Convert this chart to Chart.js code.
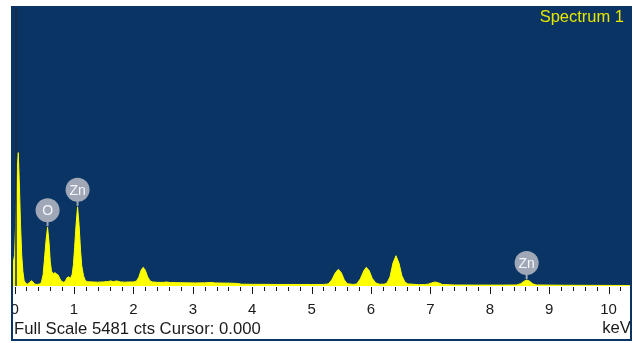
<!DOCTYPE html>
<html>
<head>
<meta charset="utf-8">
<script src="https://cdn.jsdelivr.net/npm/chart.js@4"></script>
<style>
  html, body { margin: 0; padding: 0; background: #ffffff; }
  #wrap { width: 636px; height: 343px; }
</style>
</head>
<body>
<div id="wrap"><canvas id="spectrumChart" width="636" height="343"></canvas></div>
<script>
// EDS spectrum: energy (keV) and counts per channel
const energyKeV = [
    -0.03, 0.00, 0.025, 0.045, 0.062, 0.08, 0.10, 0.12, 0.14, 0.16, 0.19, 0.22, 0.25, 0.28, 0.31, 0.34,
    0.38, 0.42, 0.45, 0.48, 0.50, 0.53, 0.555, 0.58, 0.60, 0.62, 0.64, 0.66, 0.68, 0.70, 0.73, 0.76,
    0.79, 0.82, 0.85, 0.88, 0.91, 0.94, 0.97, 0.99, 1.01, 1.035, 1.06, 1.085, 1.11, 1.13, 1.16, 1.19,
    1.22, 1.30, 1.40, 1.50, 1.58, 1.62, 1.66, 1.72, 1.78, 1.85, 1.92, 2.00, 2.05, 2.09, 2.13, 2.165,
    2.20, 2.24, 2.28, 2.32, 2.40, 2.50, 2.55, 2.62, 2.75, 2.90, 3.05, 3.20, 3.30, 3.38, 3.50, 3.65,
    3.75, 3.82, 4.00, 4.20, 4.40, 4.60, 4.80, 5.00, 5.20, 5.28, 5.34, 5.40, 5.45, 5.50, 5.55, 5.60,
    5.70, 5.76, 5.82, 5.88, 5.92, 5.97, 6.02, 6.08, 6.14, 6.22, 6.27, 6.32, 6.37, 6.42, 6.47, 6.52,
    6.57, 6.62, 6.70, 6.80, 6.90, 6.96, 7.02, 7.08, 7.14, 7.20, 7.40, 7.80, 8.20, 8.45, 8.52, 8.58,
    8.62, 8.67, 8.72, 8.78, 9.20, 9.80, 10.36
];
const countsCts = [
    420, 600, 1500, 2300, 2610, 2000, 1200, 600, 280, 110, 45, 40, 70, 104, 80, 35,
    30, 40, 70, 220, 480, 900, 1150, 850, 480, 300, 250, 245, 262, 240, 220, 150,
    90, 75, 85, 160, 180, 150, 230, 420, 750, 1200, 1550, 1200, 700, 400, 200, 110,
    85, 80, 75, 80, 90, 100, 85, 100, 80, 75, 78, 80, 95, 170, 310, 366,
    310, 180, 100, 80, 72, 70, 78, 68, 65, 62, 60, 62, 70, 60, 58, 55,
    50, 35, 33, 32, 30, 30, 30, 30, 30, 40, 120, 260, 327, 260, 120, 45,
    30, 40, 140, 300, 366, 300, 150, 60, 35, 35, 60, 180, 450, 593, 450, 200,
    80, 40, 35, 25, 28, 35, 60, 78, 60, 30, 20, 18, 18, 20, 45, 95,
    117, 95, 45, 20, 15, 12, 10
];

// peak markers
const elementNames = ['O', 'Zn', 'Zn'];
const elementKeV = [0.555, 1.06, 8.62];

// axis
const fullScaleCts = 5481;
const xMinKeV = -0.027;
const xMaxKeV = 10.36;
const majorTicks = [0, 1, 2, 3, 4, 5, 6, 7, 8, 9, 10];
const majorTickLabels = ['0', '1', '2', '3', '4', '5', '6', '7', '8', '9', '10'];
const minorTickStep = 0.2;
const cursorKeV = 0.0;
const spectrumTitle = 'Spectrum 1';
const footerText = 'Full Scale ' + fullScaleCts + ' cts Cursor: ' + cursorKeV.toFixed(3);
const unitText = 'keV';

const NAVY = '#093463';
const YELLOW = '#ffff00';
const FONT = '"Liberation Sans", Arial, sans-serif';

function peakCounts(keV) {
    let best = 0;
    energyKeV.forEach((e, i) => {
        if (Math.abs(e - keV) <= 0.03 && countsCts[i] > best) best = countsCts[i];
    });
    return best;
}

const spectrumDecor = {
    id: 'spectrumDecor',
    beforeDraw(chart) {
        const { ctx, chartArea: a } = chart;
        ctx.save();
        ctx.fillStyle = NAVY;
        ctx.fillRect(a.left, a.top, a.right - a.left, a.bottom - a.top);
        ctx.restore();
    },
    afterDatasetsDraw(chart) {
        const { ctx, chartArea: a, scales } = chart;
        const xs = scales.x, ys = scales.y;
        ctx.save();

        // cursor line
        const cx = Math.round(xs.getPixelForValue(cursorKeV)) + 1;
        ctx.strokeStyle = '#1d2b3d';
        ctx.lineWidth = 1.5;
        ctx.beginPath();
        ctx.moveTo(cx, a.top);
        ctx.lineTo(cx, a.bottom);
        ctx.stroke();

        // element markers
        elementNames.forEach((name, i) => {
            const px = xs.getPixelForValue(elementKeV[i]);
            const py = ys.getPixelForValue(peakCounts(elementKeV[i]));
            const r = 12;
            const cy = py - 17;
            ctx.strokeStyle = '#a0a8b8';
            ctx.lineWidth = 2;
            ctx.beginPath();
            ctx.moveTo(px, cy + r - 1);
            ctx.lineTo(px, py - 1);
            ctx.stroke();
            ctx.fillStyle = '#a0a8b8';
            ctx.beginPath();
            ctx.arc(px, cy, r, 0, Math.PI * 2);
            ctx.fill();
            ctx.fillStyle = '#f4f6fa';
            ctx.font = '14px ' + FONT;
            ctx.textAlign = 'center';
            ctx.textBaseline = 'middle';
            ctx.fillText(name, px, cy + 1);
        });

        // title
        ctx.fillStyle = '#e6e600';
        ctx.font = '16.5px ' + FONT;
        ctx.textAlign = 'right';
        ctx.textBaseline = 'alphabetic';
        ctx.fillText(spectrumTitle, 624, 22);
        ctx.restore();
    },
    afterDraw(chart) {
        const { ctx, chartArea: a, scales } = chart;
        const xs = scales.x;
        ctx.save();
        ctx.beginPath();
        ctx.rect(13, 0, 617, 343);
        ctx.clip();

        // tick marks
        ctx.strokeStyle = '#1a1a1a';
        ctx.lineWidth = 1;
        for (let v = 0; v <= xMaxKeV + 1e-9; v += minorTickStep) {
            const val = Math.round(v * 10) / 10;
            const x = Math.round(xs.getPixelForValue(val)) + 0.5;
            const major = majorTicks.includes(val);
            ctx.beginPath();
            ctx.moveTo(x, a.bottom + 1);
            ctx.lineTo(x, a.bottom + (major ? 8 : 5));
            ctx.stroke();
        }

        // tick labels
        ctx.fillStyle = '#1a1a1a';
        ctx.font = '15px ' + FONT;
        ctx.textAlign = 'center';
        ctx.textBaseline = 'alphabetic';
        majorTicks.forEach((v, i) => {
            ctx.fillText(majorTickLabels[i], xs.getPixelForValue(v), 314);
        });

        ctx.font = '16.7px ' + FONT;
        ctx.textAlign = 'left';
        ctx.fillText(footerText, 14, 334);
        ctx.textAlign = 'right';
        ctx.fillText(unitText, 631, 333);
        ctx.restore();

        // outer frame
        ctx.save();
        ctx.strokeStyle = NAVY;
        ctx.lineWidth = 2;
        ctx.strokeRect(12, 7, 619, 333);
        ctx.restore();
    }
};

new Chart(document.getElementById('spectrumChart'), {
    type: 'line',
    data: {
        datasets: [{
            label: spectrumTitle,
            data: energyKeV.map((e, i) => ({ x: e, y: countsCts[i] })),
            borderColor: YELLOW,
            backgroundColor: YELLOW,
            borderWidth: 1,
            pointRadius: 0,
            tension: 0,
            fill: 'origin'
        }]
    },
    options: {
        responsive: false,
        animation: false,
        layout: { padding: { left: 13, right: 6, top: 6, bottom: 57 } },
        plugins: { legend: { display: false }, tooltip: { enabled: false } },
        scales: {
            x: { type: 'linear', min: xMinKeV, max: xMaxKeV, display: false },
            y: { type: 'linear', min: 0, max: fullScaleCts, display: false }
        }
    },
    plugins: [spectrumDecor]
});
</script>
</body>
</html>
